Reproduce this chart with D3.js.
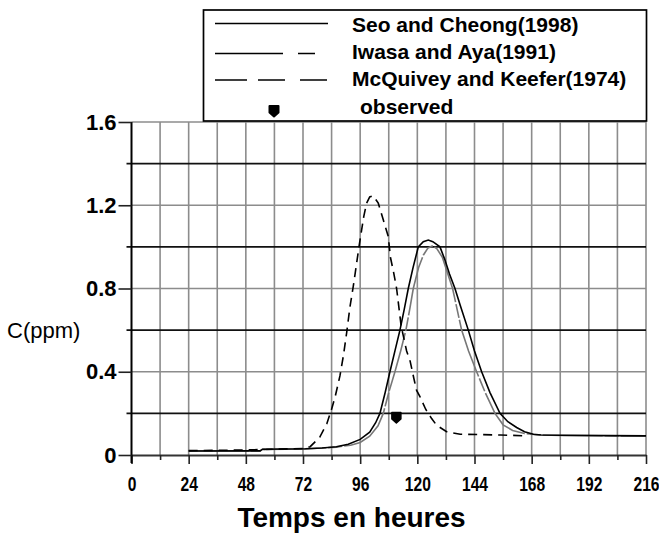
<!DOCTYPE html>
<html>
<head>
<meta charset="utf-8">
<script src="https://cdn.jsdelivr.net/npm/d3@7/dist/d3.min.js"></script>
<style>
  html, body { margin: 0; padding: 0; background: #fff; }
  svg { display: block; }
  text { font-family: "Liberation Sans", Arial, sans-serif; fill: #000; }
</style>
</head>
<body>
<svg id="chart" width="659" height="538"></svg>
<script>
// ---------- data ----------
const xTickLabels = [0, 24, 48, 72, 96, 120, 144, 168, 192, 216];
const yTickLabels = [0, 0.4, 0.8, 1.2, 1.6];
const seriesNames = ["Seo and Cheong(1998)", "Iwasa and Aya(1991)", "McQuivey and Keefer(1974)", "observed"];

// [time (h), C (ppm)]
const seoCheong = [[24,0.019],[54,0.02],[55,0.028],[73,0.03],[80,0.034],[86,0.04],[91,0.052],[96,0.075],[100,0.11],[102.5,0.155],[104.3,0.2],[106.5,0.3],[108.5,0.4],[110.6,0.5],[112.7,0.6],[114.5,0.7],[116.2,0.8],[118.2,0.9],[120.4,1.0],[122.5,1.025],[124.6,1.033],[126.5,1.025],[129.5,1.0],[131.5,0.94],[133.5,0.87],[135.8,0.8],[138,0.72],[141.4,0.6],[144,0.5],[147,0.4],[150.5,0.3],[154.7,0.2],[158,0.16],[161.7,0.132],[165,0.112],[168.7,0.1],[172,0.096],[180,0.095],[200,0.093],[216,0.092]];

const iwasaAya = [[24,0.019],[54,0.02],[55,0.027],[73,0.029],[86,0.038],[92,0.047],[96,0.06],[100,0.09],[103.5,0.14],[105.7,0.2],[108,0.3],[110.6,0.4],[113,0.5],[115.2,0.6],[116.8,0.7],[118.3,0.8],[120.5,0.9],[122.5,0.96],[124.5,0.995],[126.5,1.005],[128.3,0.99],[130.5,0.95],[132.5,0.88],[134.8,0.8],[136.7,0.7],[138.6,0.6],[141.5,0.5],[144.9,0.4],[148.5,0.3],[152.6,0.2],[156,0.145],[160,0.118],[165,0.103],[170,0.097],[180,0.094],[216,0.091]];

const mcQuiveyKeefer = [[24,0.021],[48,0.024],[60,0.028],[72,0.031],[75,0.04],[79,0.085],[82,0.15],[84,0.22],[85.5,0.28],[87.5,0.38],[89,0.48],[90.3,0.585],[91.7,0.71],[93.1,0.81],[94.5,0.92],[95.5,1.0],[96.6,1.08],[97.5,1.145],[98.7,1.21],[100,1.24],[101.5,1.245],[103.6,1.21],[105.7,1.13],[107.8,1.05],[108.7,0.95],[110,0.88],[111.3,0.8],[113.2,0.62],[115.5,0.5],[117,0.45],[118.5,0.37],[119.7,0.31],[121.1,0.28],[123.5,0.22],[126,0.175],[128.1,0.143],[132.3,0.112],[138,0.1],[155,0.096],[166,0.092]];

const observed = [[111.2,0.18]];

// ---------- layout ----------
const svg = d3.select("#chart");
const x = d3.scaleLinear().domain([0, 216]).range([131.5, 646]);
const y = d3.scaleLinear().domain([0, 1.6]).range([455, 122]);

const gridGray = "#8c8c8c";

// vertical grid every 12 h
const vGrid = d3.range(12, 217, 12);
svg.append("g").selectAll("line").data(vGrid).join("line")
  .attr("x1", d => x(d)).attr("x2", d => x(d))
  .attr("y1", y(0)).attr("y2", y(1.6))
  .attr("stroke", gridGray).attr("stroke-width", 1.6);

// horizontal grid every 0.2
const hGrid = [0.2, 0.4, 0.6, 0.8, 1.0, 1.2, 1.4, 1.6];
svg.append("g").selectAll("line").data(hGrid).join("line")
  .attr("x1", (d, i) => i % 2 === 0 ? x(0) - 5 : x(0)).attr("x2", x(216))
  .attr("y1", d => y(d)).attr("y2", d => y(d))
  .attr("stroke", (d, i) => i % 2 === 0 ? "#111" : gridGray)
  .attr("stroke-width", 1.7);

// x axis
const xAxis = svg.append("g").attr("transform", `translate(0,${y(0)})`)
  .call(d3.axisBottom(x).tickValues(xTickLabels).tickSize(9).tickSizeOuter(0).tickPadding(13).tickFormat(d3.format("d")));
xAxis.select(".domain").attr("stroke", "#333").attr("stroke-width", 1.8);
xAxis.selectAll(".tick line").attr("stroke", "#222").attr("stroke-width", 1.6);
xAxis.selectAll(".tick text")
  .style("font-size", "20px").style("font-weight", "bold").attr("fill", "#000")
  .attr("transform", "scale(0.78,1)");

const xMinor = svg.append("g").attr("transform", `translate(0,${y(0)})`)
  .call(d3.axisBottom(x).tickValues(d3.range(12, 217, 24)).tickSize(5).tickSizeOuter(0).tickFormat(""));
xMinor.select(".domain").remove();
xMinor.selectAll(".tick line").attr("stroke", "#222").attr("stroke-width", 1.6);

// y axis
const yAxis = svg.append("g").attr("transform", `translate(${x(0)},0)`)
  .call(d3.axisLeft(y).tickValues(yTickLabels).tickSize(13).tickSizeOuter(0).tickPadding(2)
    .tickFormat(d => d === 0 ? "0" : d3.format(".1f")(d)));
yAxis.select(".domain").attr("stroke", "#000").attr("stroke-width", 2).attr("d", `M0,${y(1.6)}V${y(0) + 8}`);
yAxis.selectAll(".tick line").attr("stroke", "#222").attr("stroke-width", 1.6);
yAxis.selectAll(".tick text")
  .style("font-size", "22px").style("font-weight", "bold").attr("fill", "#000");

// ---------- curves ----------
const line = d3.line().x(d => x(d[0])).y(d => y(d[1]));

svg.append("path").datum(iwasaAya).attr("d", line)
  .attr("fill", "none").attr("stroke", "#777").attr("stroke-width", 1.6)
  .attr("stroke-dasharray", "60,2,14,2");

svg.append("path").datum(seoCheong).attr("d", line)
  .attr("fill", "none").attr("stroke", "#000").attr("stroke-width", 1.6);

svg.append("path").datum(mcQuiveyKeefer).attr("d", line)
  .attr("fill", "none").attr("stroke", "#000").attr("stroke-width", 1.6)
  .attr("stroke-dasharray", "9,6");

// observed marker (shield-like shape)
const markerPath = "M-4.5,-5 L4.5,-5 L4.5,1.5 L0,5.5 L-4.5,1.5 Z";
svg.append("g").selectAll("path").data(observed).join("path")
  .attr("transform", d => `translate(${x(d[0])},${y(d[1])})`)
  .attr("d", markerPath).attr("fill", "#000")
  .attr("stroke", "#000").attr("stroke-width", 1.5).attr("stroke-linejoin", "round");

// ---------- legend ----------
const lg = svg.append("g");
lg.append("rect").attr("x", 203.5).attr("y", 10).attr("width", 443).attr("height", 111)
  .attr("fill", "#fff").attr("stroke", "#000").attr("stroke-width", 1.7);

lg.append("line").attr("x1", 215).attr("x2", 328).attr("y1", 23.5).attr("y2", 23.5)
  .attr("stroke", "#000").attr("stroke-width", 1.6);
lg.append("line").attr("x1", 215).attr("x2", 315).attr("y1", 53.5).attr("y2", 53.5)
  .attr("stroke", "#000").attr("stroke-width", 1.6).attr("stroke-dasharray", "68,15,17");
lg.append("line").attr("x1", 215).attr("x2", 327).attr("y1", 80).attr("y2", 80)
  .attr("stroke", "#000").attr("stroke-width", 1.6).attr("stroke-dasharray", "32,11,27,15,27");
lg.append("path").attr("transform", "translate(274,111)").attr("d", markerPath)
  .attr("fill", "#000").attr("stroke", "#000").attr("stroke-width", 2).attr("stroke-linejoin", "round");

const legendBaselines = [31.5, 58.5, 85.5, 114];
const legendX = [352, 352, 352, 360];
lg.selectAll("text.lt").data(seriesNames).join("text").attr("class", "lt")
  .attr("x", (d, i) => legendX[i]).attr("y", (d, i) => legendBaselines[i])
  .style("font-size", "21px").style("font-weight", "bold").text(d => d);

// ---------- axis titles ----------
svg.append("text").attr("x", 7).attr("y", 337.5)
  .style("font-size", "22px").text("C(ppm)");
svg.append("text").attr("x", 351.5).attr("y", 527).attr("text-anchor", "middle")
  .style("font-size", "28px").style("font-weight", "bold").text("Temps en heures");
</script>
</body>
</html>
